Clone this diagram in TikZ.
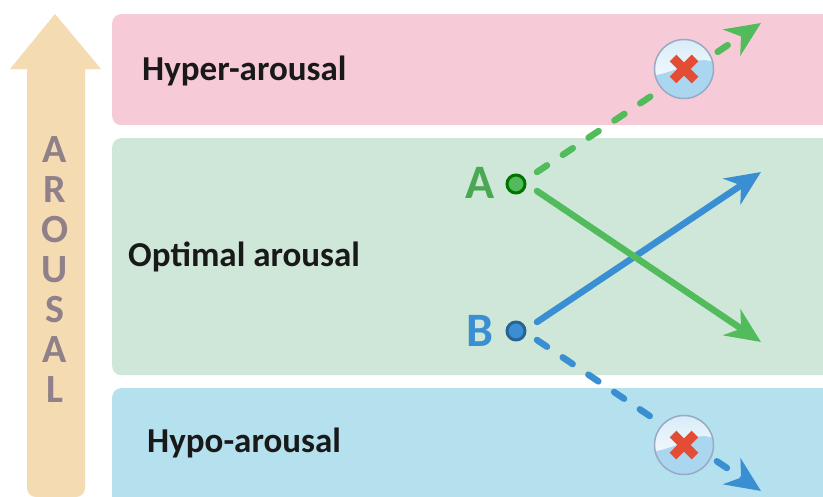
\documentclass[tikz,border=0pt]{standalone}
\usepackage{fontspec}
\setmainfont{Carlito}
\usetikzlibrary{arrows.meta}
\definecolor{pinkband}{HTML}{F6CBD7}
\definecolor{greenband}{HTML}{CEE7D8}
\definecolor{blueband}{HTML}{B5E0EE}
\definecolor{sand}{HTML}{F5DBB2}
\definecolor{mauve}{HTML}{8F8089}
\definecolor{arrowgreen}{HTML}{52BB5C}
\definecolor{arrowblue}{HTML}{3A8FD2}
\definecolor{crossred}{HTML}{E44D35}
\definecolor{ringgrey}{HTML}{9AA9C4}
\definecolor{bubble}{HTML}{ABD6EF}
\tikzset{
  band/.style   ={rounded corners=9pt, anchor=north west, minimum width=800pt, inner sep=0pt},
  lbl/.style    ={font=\fontsize{35}{38}\selectfont\bfseries, text=black!90, anchor=west, inner sep=0pt},
  ptlbl/.style  ={font=\fontsize{48}{48}\selectfont\bfseries, inner sep=0pt},
  dot/.style    ={circle, minimum size=18pt, inner sep=0pt, line width=3pt},
  ar/.style     ={-{Stealth[length=35pt,width=31pt,inset=11pt]}, line width=6.5pt, line cap=round},
  dsh/.style    ={ar, dash pattern=on 12pt off 19pt},
  nogo/.style   ={circle, minimum size=59pt, inner sep=0pt, draw=ringgrey, line width=1.5pt,
                  top color=bubble!45!white, bottom color=white,
                  path picture={
                    \fill[bubble] (-32,7) .. controls (-12,3) and (-2,-2) .. (10,-7) .. controls (18,-10) and (26,-9) .. (32,-6) -- (32,32) -- (-32,32) -- cycle;
                    \draw[crossred, line width=9.5pt] (-11,-11) -- (11,11) (-11,11) -- (11,-11);
                  }},
}
\begin{document}
\begin{tikzpicture}[x=1pt,y=-1pt]
\path[use as bounding box, clip] (0,0) rectangle (823,496);
\fill[white] (0,0) rectangle (823,496);
\fill[sand] (55,14) -- (101,69) -- (85,69) [rounded corners=9pt] -- (85,497) -- (27,497) [sharp corners] -- (27,69) -- (10,69) -- cycle;
\node[band, fill=pinkband, minimum height=111pt] (hyper) at (112,14) {};
\node[band, fill=greenband, minimum height=237pt] (optimal) at (112,138) {};
\node[band, fill=blueband, minimum height=140pt] (hypo) at (112,388) {};
\node[font=\fontsize{40}{40}\selectfont\bfseries, text=mauve, align=center, inner sep=0pt] (axis) at (55,270) {A\\R\\O\\U\\S\\A\\L};
\node[lbl] (hyperlbl) at (142,71) {Hyper-arousal};
\node[lbl] (optimallbl) at (128,257) {Optimal arousal};
\node[lbl] (hypolbl) at (147,443) {Hypo-arousal};
\node[dot, fill=arrowgreen, draw=green!45!black] (a) at (516,184) {};
\node[dot, fill=arrowblue, draw=arrowblue!70!black] (b) at (516,331) {};
\node[ptlbl, text=arrowgreen!90!black] (alab) at (480,183) {A};
\node[ptlbl, text=arrowblue] (blab) at (480,331) {B};
\coordinate (aup) at (537,172);
\coordinate (adown) at (537,191);
\coordinate (bup) at (537,322);
\coordinate (bdown) at (537,340);
\coordinate (hightip) at (761,23);
\coordinate (lowtip) at (761,342);
\coordinate (blowtip) at (761,491);
\coordinate (bhightip) at (761,172);
\draw[ar, draw=arrowblue, fill=arrowblue] (bup) -- (bhightip);
\draw[ar, draw=arrowgreen, fill=arrowgreen] (adown) -- (lowtip);
\draw[dsh, draw=arrowgreen] (aup) -- (hightip);
\draw[dsh, draw=arrowblue] (bdown) -- (blowtip);
\node[nogo] (stophigh) at (684,69) {};
\node[nogo] (stoplow) at (684,445) {};
\end{tikzpicture}
\end{document}
